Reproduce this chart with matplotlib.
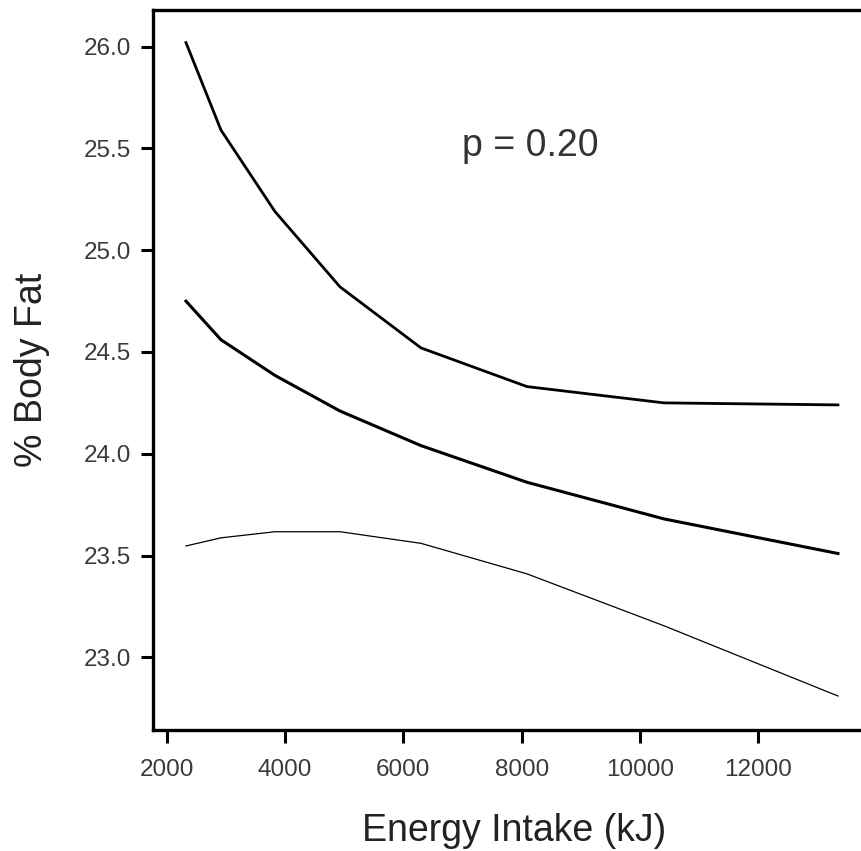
import matplotlib.pyplot as plt

plt.rcParams['font.family'] = ['Liberation Sans', 'DejaVu Sans']

# energia (kJ) nos pontos da curva
energy = [2326, 2918, 3830, 4929, 6298, 8089, 10404, 13345]

# limites e estimativa do % de gordura corporal
upper = [26.02, 25.59, 25.19, 24.82, 24.52, 24.33, 24.25, 24.24]
mean = [24.75, 24.56, 24.385, 24.21, 24.04, 23.86, 23.68, 23.51]
lower = [23.547, 23.587, 23.617, 23.617, 23.56, 23.41, 23.155, 22.81]

yticks = [23.0, 23.5, 24.0, 24.5, 25.0, 25.5, 26.0]
xticks = [2000, 4000, 6000, 8000, 10000, 12000]

fig = plt.figure(figsize=(8.62, 8.51), dpi=100)
ax = fig.add_axes([153 / 862, 1 - 730 / 851, 1 - 153 / 862, 720 / 851])

ax.plot(energy, upper, color='black', lw=2.0)
ax.plot(energy, mean, color='black', lw=2.2)
ax.plot(energy, lower, color='black', lw=0.9)

ax.set_xlim(1769, 13751)
ax.set_ylim(22.643, 26.18)
ax.set_xticks(xticks)
ax.set_yticks(yticks)
ax.set_yticklabels([f'{v:.1f}' for v in yticks])

for side in ['left', 'bottom', 'top']:
    ax.spines[side].set_linewidth(2.4)
ax.spines['right'].set_visible(False)

ax.tick_params(axis='both', length=9, width=2.2, labelsize=17.5,
               labelcolor='#3a3a3a', color='black')
ax.tick_params(axis='x', pad=12)
ax.tick_params(axis='y', pad=7)

ax.set_xlabel('Energy Intake (kJ)', fontsize=27, color='#222222')
ax.set_ylabel('% Body Fat', fontsize=27, color='#222222', labelpad=24)
ax.xaxis.set_label_coords(0.51, -0.115)

ax.text(8140, 25.51, 'p = 0.20', fontsize=27, color='#333333',
        ha='center', va='center')

fig.savefig('out.png', dpi=100)
